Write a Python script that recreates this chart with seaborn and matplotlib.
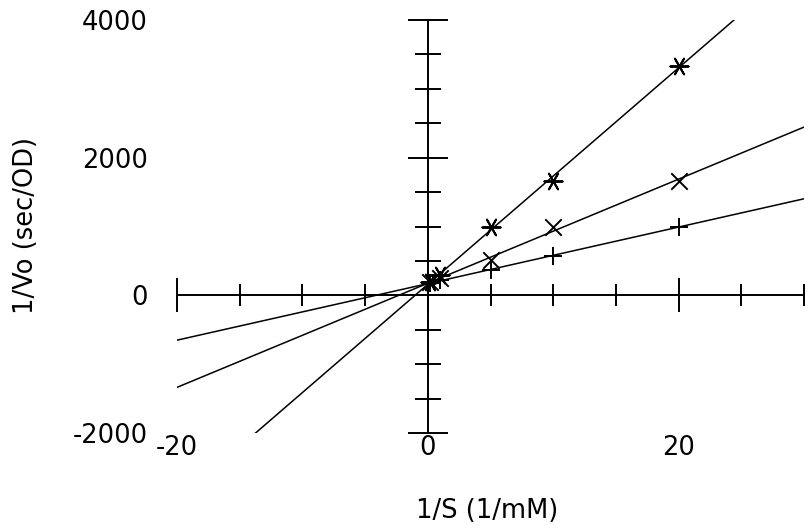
import numpy as np
import pandas as pd
from matplotlib import pyplot as plt
from matplotlib.ticker import MultipleLocator, FixedLocator
import seaborn as sns


# Lineweaver-Burk data (1/S vs 1/Vo)
inv_s = [0.2, 1, 5, 10, 20]
inv_vo_star = [200, 300, 1000, 1668, 3325]
inv_vo_cross = [190, 250, 517, 990, 1668]
inv_vo_plus = [180, 220, 373, 565, 1000]

x_ticks = [-20, 0, 20]
x_labels = ['-20', '0', '20']
y_ticks = [-2000, 0, 2000, 4000]
y_labels = ['-2000', '0', '2000', '4000']

data = pd.DataFrame({'1/S': inv_s, 'star': inv_vo_star,
                     'cross': inv_vo_cross, 'plus': inv_vo_plus})


sns.set_style('white')
plt.rcParams['font.family'] = ['DejaVu Sans']
plt.rcParams['text.color'] = 'black'

fig = plt.figure(figsize=(8.09, 5.32), dpi=100)
ax = fig.add_axes([177 / 809, 99 / 532, 627 / 809, 413 / 532])
ax.set_xlim(-20, 30)
ax.set_ylim(-2000, 4000)

# each series with its regression line drawn across the whole x range
series = [('star', (6, 2, 90), 170), ('cross', 'x', 140), ('plus', '+', 150)]
for col, mk, size in series:
    sns.regplot(data=data, x='1/S', y=col, ax=ax, ci=None, truncate=False,
                marker=mk, color='black',
                scatter_kws={'s': size, 'linewidths': 1.4, 'alpha': 1},
                line_kws={'linewidth': 1.1})

ax.set_xlim(-20, 30)
ax.set_ylim(-2000, 4000)

# axes crossing at the origin
ax.spines['left'].set_visible(False)
ax.spines['bottom'].set_visible(False)
ax.spines['top'].set_position(('data', 0))
ax.spines['right'].set_position(('data', 0))
for side in ['top', 'right']:
    ax.spines[side].set_linewidth(1.4)
    ax.spines[side].set_color('black')

ax.xaxis.set_major_locator(FixedLocator(x_ticks))
ax.xaxis.set_minor_locator(MultipleLocator(5))
ax.set_xticklabels(x_labels)
ax.yaxis.set_major_locator(FixedLocator(y_ticks))
ax.yaxis.set_minor_locator(MultipleLocator(500))
ax.set_yticklabels(y_labels)

ax.tick_params(axis='x', which='major', bottom=False, top=True,
               labelbottom=True, labeltop=False, direction='inout',
               length=24.5, width=1.4, pad=-11, labelsize=18.5, colors='black')
ax.tick_params(axis='x', which='minor', bottom=False, top=True,
               direction='inout', length=16, width=1.4, colors='black')
ax.tick_params(axis='y', which='major', left=False, right=True,
               labelleft=True, labelright=False, direction='inout',
               length=28.8, width=1.4, pad=6.5, labelsize=18.5, colors='black')
ax.tick_params(axis='y', which='minor', left=False, right=True,
               direction='inout', length=19, width=1.4, colors='black')

ax.set_xlabel('1/S (1/mM)', fontsize=18.5, color='black')
ax.set_ylabel('1/Vo (sec/OD)', fontsize=18.5, color='black')
ax.xaxis.label.set_verticalalignment('center')
ax.yaxis.label.set_verticalalignment('center')
ax.xaxis.set_label_coords((487 - 177) / 627, (21 - 99) / 413)
ax.yaxis.set_label_coords((26 - 177) / 627, (532 - 226 - 99) / 413)

plt.savefig('out.png', dpi=100)
